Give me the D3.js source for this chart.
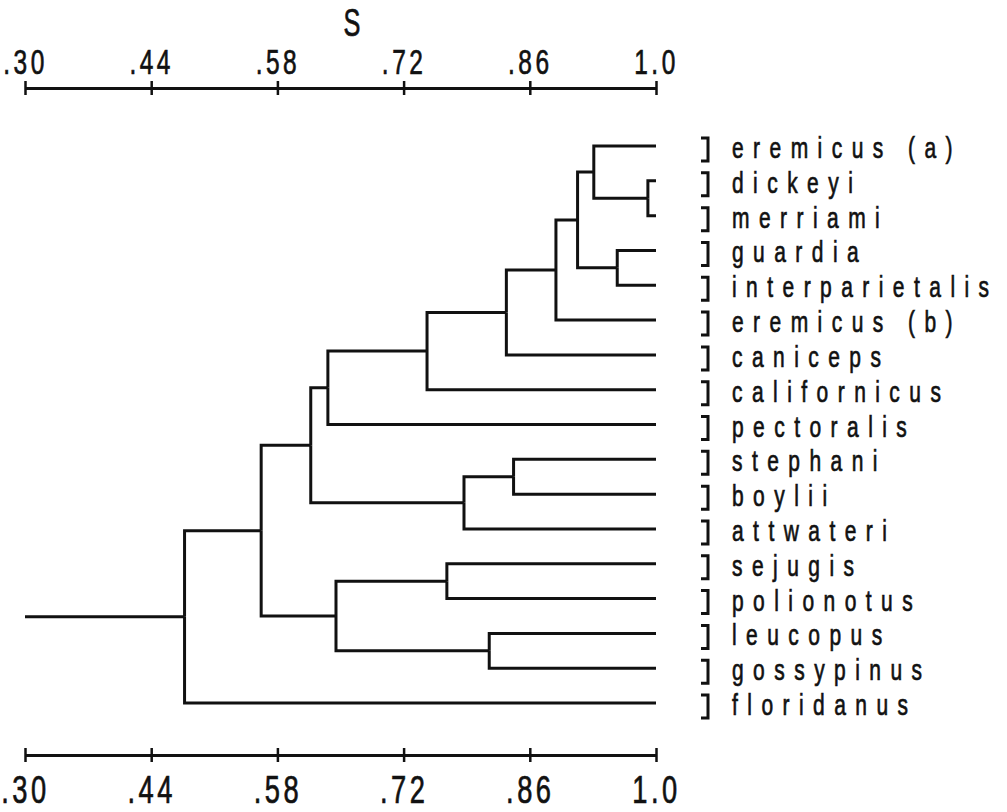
<!DOCTYPE html>
<html>
<head>
<meta charset="utf-8">
<script src="https://cdn.jsdelivr.net/npm/d3@7"></script>
<style>
  body { margin: 0; background: #fff; }
  svg { display: block; }
  text { font-family: "Liberation Sans", Arial, sans-serif; fill: #111; stroke: #111; stroke-width: 0.7px; }
</style>
</head>
<body>
<div id="chart"></div>
<script>
var width = 1007;
var height = 812;

// leaves, top to bottom
var species = ["eremicus (a)", "dickeyi", "merriami", "guardia", "interparietalis",
    "eremicus (b)", "caniceps", "californicus", "pectoralis", "stephani", "boylii",
    "attwateri", "sejugis", "polionotus", "leucopus", "gossypinus", "floridanus"];

/*
    joins: pairs of clusters merged, in order
    0..16 = species, 17.. = earlier joins
*/
var joins = [[1, 2], [0, 17], [3, 4], [18, 19], [20, 5], [21, 6], [22, 7], [23, 8],
    [9, 10], [25, 11], [24, 26], [12, 13], [14, 15], [28, 29], [27, 30], [31, 16]];
// similarity (S) at which each join happens
var similarity = [0.991, 0.931, 0.957, 0.913, 0.889, 0.834, 0.746, 0.636,
    0.842, 0.787, 0.617, 0.768, 0.815, 0.645, 0.562, 0.477];
var leafS = 1.0;
var rootS = 0.30;

var tickValues = [0.30, 0.44, 0.58, 0.72, 0.86, 1.0];
var tickLabels = [".30", ".44", ".58", ".72", ".86", "1.0"];
var axisTitle = "S";

var svg = d3.select("#chart")
    .append("svg")
    .attr("width", width)
    .attr("height", height)

var x = d3.scaleLinear().domain([0.30, 1.0]).range([25, 656])
var y = d3.scalePoint().domain(species).range([146, 703])

/*
    build the tree from the join list
*/
var clusters = species.map(function (name) {
    return { name: name, s: leafS }
})
joins.forEach(function (j, i) {
    clusters.push({ s: similarity[i], children: [clusters[j[0]], clusters[j[1]]] })
})
var root = d3.hierarchy(clusters[clusters.length - 1])
root.eachAfter(function (d) {
    if (d.children) d.yy = d3.mean(d.children, function (c) { return c.yy })
    else d.yy = y(d.data.name)
})

var tree = svg.append("g")
    .attr("fill", "none")
    .attr("stroke", "#111")
    .attr("stroke-width", 3)

// elbow links
tree.selectAll(".link")
    .data(root.links())
    .enter().append("path")
    .attr("class", "link")
    .attr("d", function (l) {
        return "M" + x(l.source.data.s) + "," + l.source.yy +
            "V" + l.target.yy + "H" + x(l.target.data.s)
    })

// root stub
tree.append("path")
    .attr("d", "M" + x(rootS) + "," + root.yy + "H" + x(root.data.s))

/*
    labels with bracket
*/
var leaves = root.leaves()
var bx = x(1.0) + 52

tree.selectAll(".bracket")
    .data(leaves)
    .enter().append("path")
    .attr("class", "bracket")
    .attr("stroke-width", 3)
    .attr("d", function (d) {
        return "M" + (bx - 7) + "," + (d.yy - 8) + "H" + bx + "V" + (d.yy + 15) + "H" + (bx - 7)
    })

svg.selectAll(".label")
    .data(leaves)
    .enter().append("text")
    .attr("class", "label")
    .attr("transform", function (d) {
        return "translate(" + (bx + 24) + "," + (d.yy + 12) + ") scale(0.7,1)"
    })
    .attr("font-size", 30)
    .attr("letter-spacing", 13.5)
    .text(function (d) { return d.data.name })

/*
    axes, top and bottom
*/
function drawAxis(axis, ypos, labelY, fontSize) {
    var g = svg.append("g")
        .attr("transform", "translate(0," + ypos + ")")
        .call(axis.tickValues(tickValues)
            .tickFormat(function (d, i) { return tickLabels[i] })
            .tickSizeOuter(0)
            .tickSizeInner(7))
    g.select(".domain").attr("stroke", "#111").attr("stroke-width", 3)
    g.selectAll(".tick line")
        .attr("y1", -7).attr("y2", 7)
        .attr("stroke", "#111").attr("stroke-width", 2.5)
    g.selectAll(".tick text")
        .attr("y", labelY)
        .attr("dy", null)
        .attr("font-family", null)
        .attr("font-size", fontSize)
        .attr("letter-spacing", 5)
        .attr("transform", "scale(0.7,1)")
    return g
}

drawAxis(d3.axisTop(x), 88, -14, 35)
drawAxis(d3.axisBottom(x), 755, 48, 39)

svg.append("text")
    .attr("transform", "translate(352,36) scale(0.65,1)")
    .attr("text-anchor", "middle")
    .attr("font-size", 39)
    .text(axisTitle)
</script>
</body>
</html>
